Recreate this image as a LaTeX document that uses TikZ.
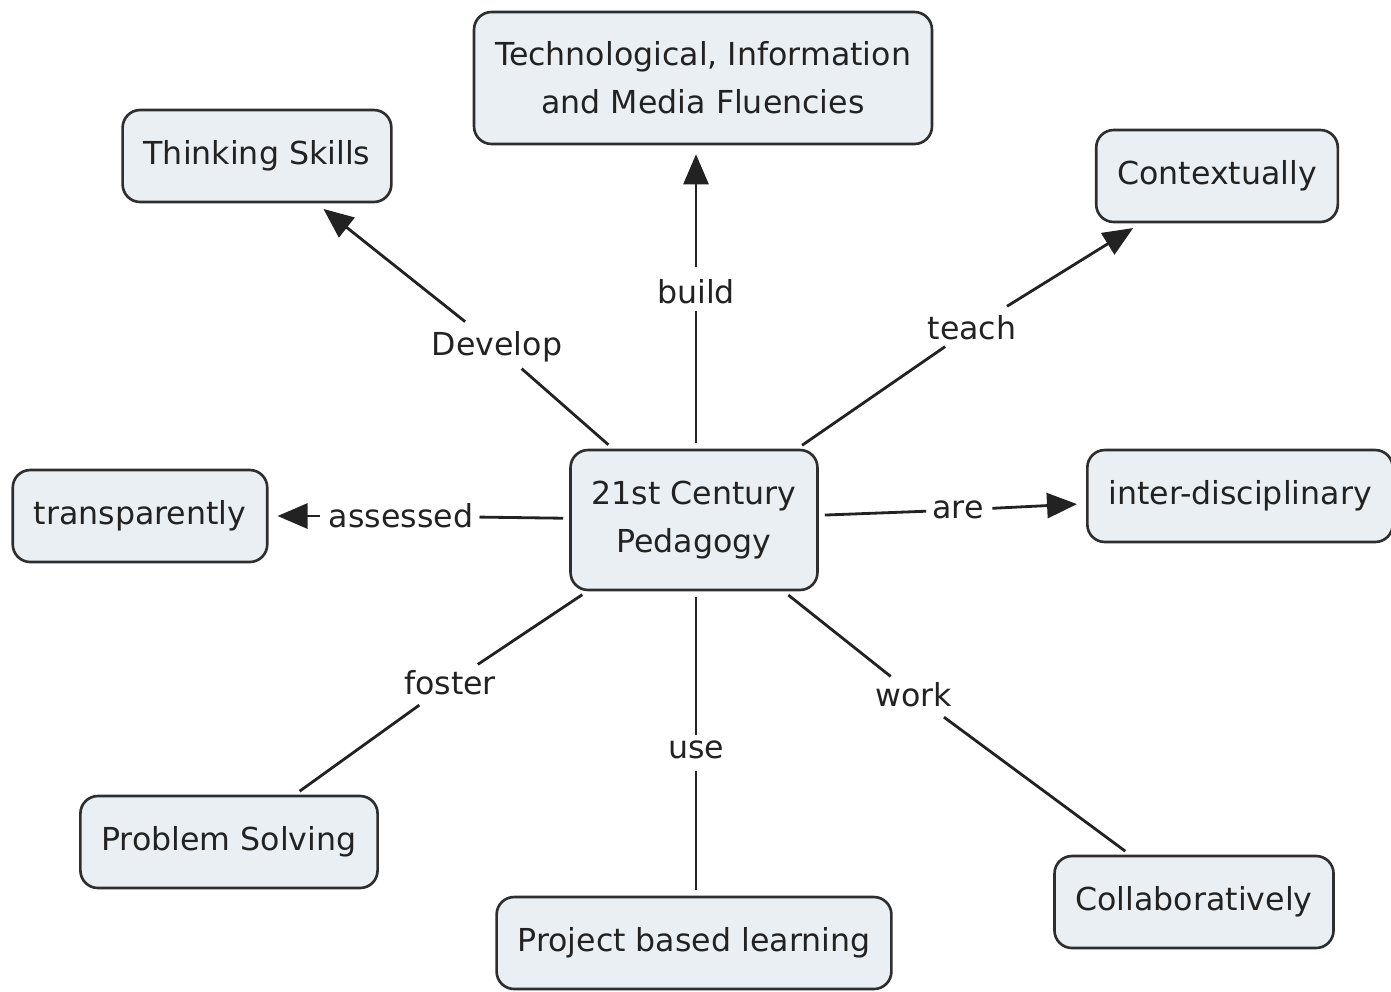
\documentclass[tikz,border=0pt]{standalone}
\usepackage{fontspec}
\setmainfont{DejaVu Sans}
\usepackage{xcolor}
\usetikzlibrary{arrows.meta}
\definecolor{boxfill}{HTML}{E9EFF3}
\definecolor{boxline}{HTML}{2E2E2E}
\definecolor{inkgray}{HTML}{222222}

\begin{document}
\begin{tikzpicture}
              [x=0.02cm, y=-0.02cm,
               concept/.style={draw=boxline, line width=1.5pt, fill=boxfill, rounded corners=0.35cm,
                               minimum height=1.84cm, inner xsep=0.42cm, align=center,
                               text=inkgray, font=\fontsize{18}{27.5}\selectfont},
               linkword/.style={inner sep=0.12cm, text=inkgray, font=\fontsize{18}{20}\selectfont},
               edge/.style={draw=inkgray, line width=1.6pt, shorten <=0.12cm},
               tip/.style={-{Triangle[length=0.6cm, width=0.5cm]}, shorten >=0.18cm}]
              \useasboundingbox (0,0) rectangle (1391,991);

              % nodes %
              \node[concept, minimum height=2.8cm] (pc) at (694,520) {21st Century\\Pedagogy};
              \node[concept, minimum height=2.64cm] (tech) at (703,78) {Technological, Information\\and Media Fluencies};
              \node[concept] (thinking) at (257,156) {Thinking Skills};
              \node[concept] (context) at (1217,176) {Contextually};
              \node[concept] (transp) at (140,516) {transparently};
              \node[concept] (inter) at (1240,496) {inter-disciplinary};
              \node[concept] (problem) at (229,842) {Problem Solving};
              \node[concept] (project) at (694,943) {Project based learning};
              \node[concept] (collab) at (1194,902) {Collaboratively};

              % linking words %
              \node[linkword] (develop) at (497,347) {Develop};
              \node[linkword] (build) at (696,292) {build};
              \node[linkword] (teach) at (972,328) {teach};
              \node[linkword] (assessed) at (401,516) {assessed};
              \node[linkword] (are) at (958,510) {are};
              \node[linkword] (foster) at (450,683) {foster};
              \node[linkword] (use) at (696,750) {use};
              \node[linkword] (work) at (914,695) {work};

              % edges %
              \draw[edge] (pc) -- (develop);
              \draw[edge, tip] (develop) -- (thinking);
              \draw[edge] (pc.north -| build) -- (build);
              \draw[edge, tip] (build) -- (build |- tech.south);
              \draw[edge] (pc) -- (teach);
              \draw[edge, tip] (teach) -- (context);
              \draw[edge] (pc) -- (assessed);
              \draw[edge, tip, shorten <=0.05cm] (assessed) -- (transp);
              \draw[edge] (pc) -- (are);
              \draw[edge, tip, shorten <=0.05cm] (are) -- (inter);
              \draw[edge] (pc) -- (foster);
              \draw[edge, shorten >=0.12cm] (foster) -- (problem);
              \draw[edge] (pc.south -| use) -- (use);
              \draw[edge, shorten >=0.12cm] (use) -- (use |- project.north);
              \draw[edge] (pc) -- (work);
              \draw[edge, shorten >=0.12cm] (work) -- (collab);
            \end{tikzpicture}
\end{document}
